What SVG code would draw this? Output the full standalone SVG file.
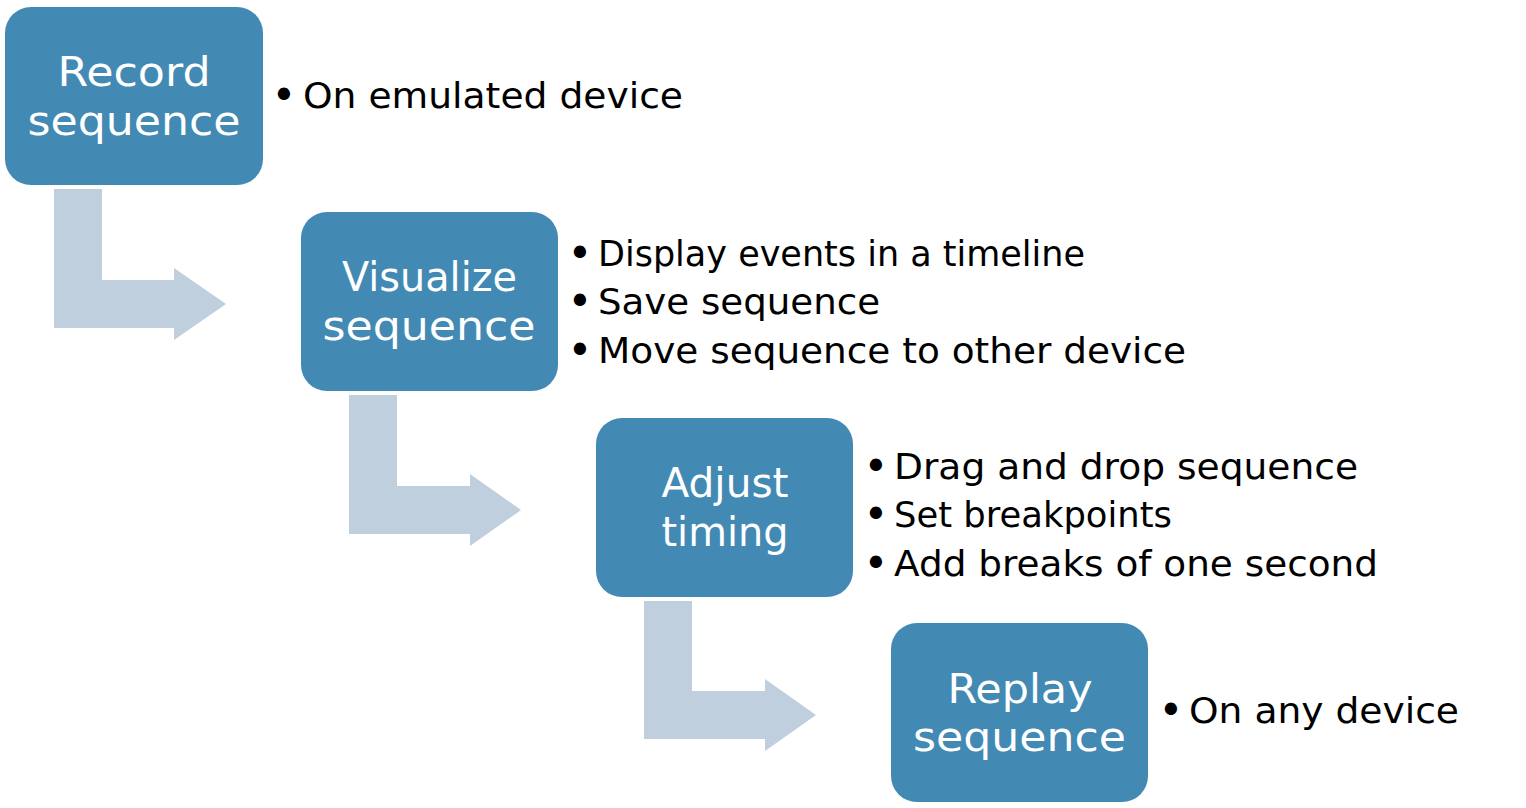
<svg xmlns="http://www.w3.org/2000/svg" width="1526" height="808" viewBox="0 0 1526 808">
<style>
.box{fill:#428ab4;}
.arrow{fill:#bfcfde;}
.lbl{font-family:"Century Gothic","DejaVu Sans",sans-serif;font-size:40px;fill:#ffffff;text-anchor:middle;}
.bt{font-family:"Century Gothic","DejaVu Sans",sans-serif;font-size:35px;fill:#000000;}
.dot{font-family:"DejaVu Sans",sans-serif;font-size:42px;fill:#000000;text-anchor:middle;}
</style>
<rect width="1526" height="808" fill="#ffffff"/>
<g id="connectors">
<polygon class="arrow" points="54,189 102,189 102,280 174,280 174,268 226,304 174,340 174,328 54,328"/>
<polygon class="arrow" points="349,395 397,395 397,486 470,486 470,474 521,510 470,546 470,534 349,534"/>
<polygon class="arrow" points="644,601 692,601 692,691 765,691 765,679 816,715 765,751 765,739 644,739"/>
</g>
<g id="node-record">
<rect class="box" x="5" y="7" width="258" height="178" rx="26"/>
<text class="lbl" x="134" y="86" textLength="153" lengthAdjust="spacingAndGlyphs">Record</text>
<text class="lbl" x="134" y="135" textLength="213" lengthAdjust="spacingAndGlyphs">sequence</text>
<text class="dot" x="284" y="110">•</text>
<text class="bt" x="303" y="108" textLength="380" lengthAdjust="spacingAndGlyphs">On emulated device</text>
</g>
<g id="node-visualize">
<rect class="box" x="301" y="212" width="257" height="179" rx="26"/>
<text class="lbl" x="429.5" y="291" textLength="175" lengthAdjust="spacingAndGlyphs">Visualize</text>
<text class="lbl" x="429" y="340" textLength="213" lengthAdjust="spacingAndGlyphs">sequence</text>
<text class="dot" x="580" y="268">•</text>
<text class="bt" x="598" y="266" textLength="487" lengthAdjust="spacingAndGlyphs">Display events in a timeline</text>
<text class="dot" x="580" y="316">•</text>
<text class="bt" x="598" y="314" textLength="282" lengthAdjust="spacingAndGlyphs">Save sequence</text>
<text class="dot" x="580" y="365">•</text>
<text class="bt" x="598" y="363" textLength="588" lengthAdjust="spacingAndGlyphs">Move sequence to other device</text>
</g>
<g id="node-adjust">
<rect class="box" x="596" y="418" width="257" height="179" rx="26"/>
<text class="lbl" x="725" y="497" textLength="127" lengthAdjust="spacingAndGlyphs">Adjust</text>
<text class="lbl" x="725" y="546" textLength="127" lengthAdjust="spacingAndGlyphs">timing</text>
<text class="dot" x="876" y="481">•</text>
<text class="bt" x="894" y="479" textLength="464" lengthAdjust="spacingAndGlyphs">Drag and drop sequence</text>
<text class="dot" x="876" y="529">•</text>
<text class="bt" x="894" y="527" textLength="278" lengthAdjust="spacingAndGlyphs">Set breakpoints</text>
<text class="dot" x="876" y="578">•</text>
<text class="bt" x="894" y="576" textLength="484" lengthAdjust="spacingAndGlyphs">Add breaks of one second</text>
</g>
<g id="node-replay">
<rect class="box" x="891" y="623" width="257" height="179" rx="26"/>
<text class="lbl" x="1020" y="703" textLength="145" lengthAdjust="spacingAndGlyphs">Replay</text>
<text class="lbl" x="1019.5" y="751" textLength="213" lengthAdjust="spacingAndGlyphs">sequence</text>
<text class="dot" x="1171" y="725">•</text>
<text class="bt" x="1189" y="723" textLength="270" lengthAdjust="spacingAndGlyphs">On any device</text>
</g>
</svg>
